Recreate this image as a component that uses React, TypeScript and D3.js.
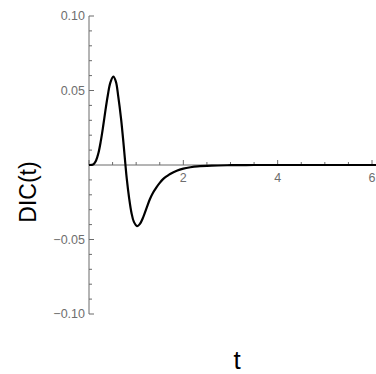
import React from "react";
import * as d3 from "d3";

const tValues = [0, 0.06, 0.1, 0.15, 0.2, 0.25, 0.3, 0.35, 0.4, 0.45, 0.515, 0.57, 0.62, 0.68, 0.73, 0.77, 0.8, 0.85, 0.9, 0.95, 1.02, 1.08, 1.15, 1.22, 1.29, 1.36, 1.43, 1.5, 1.57, 1.65, 1.72, 1.86, 2.0, 2.15, 2.3, 2.6, 3.0, 3.5, 4.0, 5.0, 6.2];
const dicValues = [0, 0.0001, 0.0006, 0.003, 0.008, 0.016, 0.026, 0.037, 0.047, 0.055, 0.0593, 0.056, 0.046, 0.031, 0.015, 0.001, -0.009, -0.022, -0.032, -0.038, -0.041, -0.0395, -0.035, -0.029, -0.023, -0.0185, -0.015, -0.012, -0.0095, -0.0075, -0.006, -0.0038, -0.0024, -0.0015, -0.0009, -0.0004, -0.00015, 0, 0, 0, 0];
const xMajorTicks = [0, 2, 4, 6];
const xTickLabels = ["2", "4", "6"];
const yMajorTicks = [-0.1, -0.05, 0.05, 0.1];
const yTickLabels = ["\u22120.10", "\u22120.05", "0.05", "0.10"];

export default function App() {
  const W = 376, H = 374;
  const x = d3.scaleLinear().domain([0, 6]).range([89, 372]);
  const y = d3.scaleLinear().domain([-0.1, 0.1]).range([314, 16]);
  const axisColor = "#6b6b6b";
  const labelColor = "#6e6e6e";
  const x0 = x(0), y0 = y(0);

  const xMinor = d3.range(0, 6.51, 0.5).filter((v) => !xMajorTicks.includes(v) && x(v) <= W);
  const yMinor = d3.range(-10, 11).map((v) => v / 100).filter((v) => Math.abs(v * 20 - Math.round(v * 20)) > 1e-6);

  const data = tValues.map((t, i) => [t, dicValues[i]] as [number, number]);
  const line = d3.line<[number, number]>().x((d) => x(d[0])).y((d) => y(d[1])).curve(d3.curveCatmullRom.alpha(0.5));

  return (
    <svg width={W} height={H} style={{ position: "absolute", left: 0, top: 0, background: "#fff" }}>
      <g fontFamily="Liberation Sans, Arial, sans-serif">
        <line x1={x0} x2={x0} y1={y(0.1)} y2={y(-0.1)} stroke={axisColor} strokeWidth={1} />
        {yMajorTicks.map((v, i) => (
          <g key={"ym" + i}>
            <line x1={x0} x2={x0 + 5} y1={y(v)} y2={y(v)} stroke={axisColor} />
            <text x={x0 - 4} y={y(v)} dy="0.35em" textAnchor="end" fontSize={12.5} fill={labelColor}>{yTickLabels[i]}</text>
          </g>
        ))}
        {yMinor.map((v, i) => (
          <line key={"yn" + i} x1={x0} x2={x0 + 3} y1={y(v)} y2={y(v)} stroke={axisColor} />
        ))}
        <line x1={x0} x2={W} y1={y0} y2={y0} stroke={axisColor} strokeWidth={1} />
        {xMajorTicks.map((v, i) => (
          <line key={"xm" + i} x1={x(v)} x2={x(v)} y1={y0} y2={y0 - 5} stroke={axisColor} />
        ))}
        {xMajorTicks.filter((v) => v !== 0).map((v, i) => (
          <text key={"xl" + i} x={x(v)} y={y0 + 17} textAnchor="middle" fontSize={12.5} fill={labelColor}>{xTickLabels[i]}</text>
        ))}
        {xMinor.map((v, i) => (
          <line key={"xn" + i} x1={x(v)} x2={x(v)} y1={y0} y2={y0 - 3} stroke={axisColor} />
        ))}
        <path d={line(data) || ""} fill="none" stroke="#000" strokeWidth={2.2} strokeLinejoin="round" />
        <text transform={`translate(36,192) rotate(-90)`} textAnchor="middle" fontSize={23} fill="#000">DIC(t)</text>
        <text x={237} y={369} textAnchor="middle" fontSize={26} fill="#000">t</text>
      </g>
    </svg>
  );
}
